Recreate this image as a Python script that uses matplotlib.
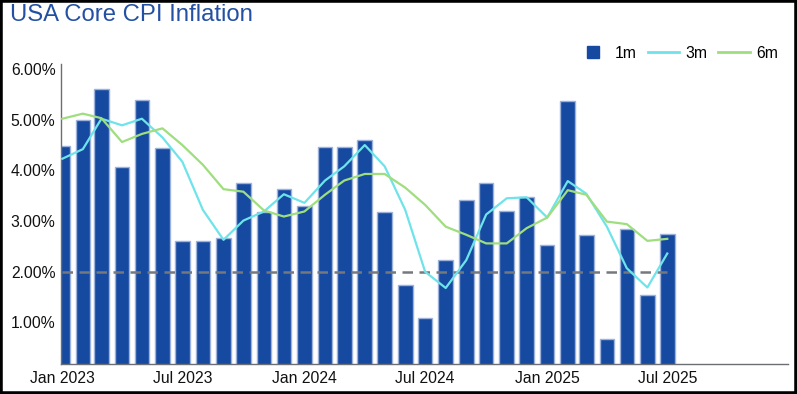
import matplotlib
matplotlib.use("Agg")
import matplotlib.pyplot as plt
import matplotlib.dates as mdates
from matplotlib.lines import Line2D
from matplotlib.patches import Rectangle
import pandas as pd

plt.rcParams['font.family'] = ['Liberation Sans', 'DejaVu Sans']

# --- data ---
months = pd.date_range("2023-01-01", "2025-07-01", freq="MS")

cpi_1m = [4.48, 5.00, 5.61, 4.06, 5.39, 4.45, 2.61, 2.60, 2.67, 3.76, 3.17, 3.63,
          3.30, 4.46, 4.46, 4.60, 3.17, 1.73, 1.09, 2.23, 3.41, 3.75, 3.20, 3.48,
          2.52, 5.37, 2.73, 0.67, 2.84, 1.55, 2.74]
cpi_3m = [4.23, 4.42, 5.02, 4.89, 5.02, 4.65, 4.17, 3.22, 2.63, 3.01, 3.19, 3.53,
          3.36, 3.80, 4.08, 4.50, 4.08, 3.22, 2.00, 1.68, 2.23, 3.13, 3.45, 3.47,
          3.07, 3.79, 3.54, 2.89, 2.07, 1.69, 2.36]
cpi_6m = [5.02, 5.12, 5.03, 4.56, 4.72, 4.83, 4.50, 4.11, 3.63, 3.58, 3.21, 3.09,
          3.19, 3.52, 3.80, 3.93, 3.93, 3.66, 3.32, 2.89, 2.73, 2.56, 2.56, 2.86,
          3.07, 3.61, 3.52, 2.99, 2.94, 2.61, 2.65]
target = [2.0] * len(months)

y_ticks = [1, 2, 3, 4, 5, 6]

# --- styling ---
BAR_COLOR = "#164aa1"
BAR_EDGE = "#9db2da"
C3M = "#6ee4ea"
C6M = "#9fde7e"
TITLE_COLOR = "#2350a3"

fig = plt.figure(figsize=(7.97, 3.94), dpi=100)
ax = fig.add_axes([0.0765, 0.0761, 0.9122, 0.7615])

ax.bar(months, cpi_1m, width=22, color=BAR_COLOR, edgecolor=BAR_EDGE,
       linewidth=1.0, zorder=2)
ax.plot(months, target, color="#75787d", lw=1.8, linestyle=(0, (4.2, 2.6)), zorder=3)
ax.plot(months, cpi_3m, color=C3M, lw=1.6, zorder=4)
ax.plot(months, cpi_6m, color=C6M, lw=1.6, zorder=4)

ax.set_ylim(0.18, 6.1)
ax.set_xlim(mdates.date2num(pd.Timestamp("2022-12-30")),
            mdates.date2num(pd.Timestamp("2025-12-30")))
ax.set_yticks(y_ticks)
ax.set_yticklabels([f"{v:.2f}%" for v in y_ticks])
ax.xaxis.set_major_locator(mdates.MonthLocator(bymonth=[1, 7]))
ax.xaxis.set_major_formatter(mdates.DateFormatter("%b %Y"))
ax.tick_params(axis="y", length=0, pad=4, labelsize=11.3, labelcolor="#111111")
ax.tick_params(axis="x", length=0, pad=5, labelsize=11.3, labelcolor="#111111")

for side in ("top", "right"):
    ax.spines[side].set_visible(False)
for side in ("left", "bottom"):
    ax.spines[side].set_color("#6b6e73")
    ax.spines[side].set_linewidth(1.0)

fig.text(0.0125, 1 - 15 / 394, "USA Core CPI Inflation", fontsize=17.2,
         color=TITLE_COLOR, va="center", ha="left")

handles = [
    Line2D([], [], marker="s", linestyle="none", markersize=8.5,
           color=BAR_COLOR, label="1m"),
    Line2D([], [], color=C3M, lw=2, label="3m"),
    Line2D([], [], color=C6M, lw=2, label="6m"),
]
fig.legend(handles=handles, loc="center right", bbox_to_anchor=(0.984, 1 - 53 / 394),
           ncol=3, frameon=False, fontsize=11.3, handlelength=2.0,
           handletextpad=0.4, columnspacing=0.7, borderaxespad=0)

# black frame around the whole picture
fig.patches.append(Rectangle((0, 0), 1, 1, transform=fig.transFigure,
                             fill=False, edgecolor="black", linewidth=4))

fig.savefig("out.png", dpi=100)
